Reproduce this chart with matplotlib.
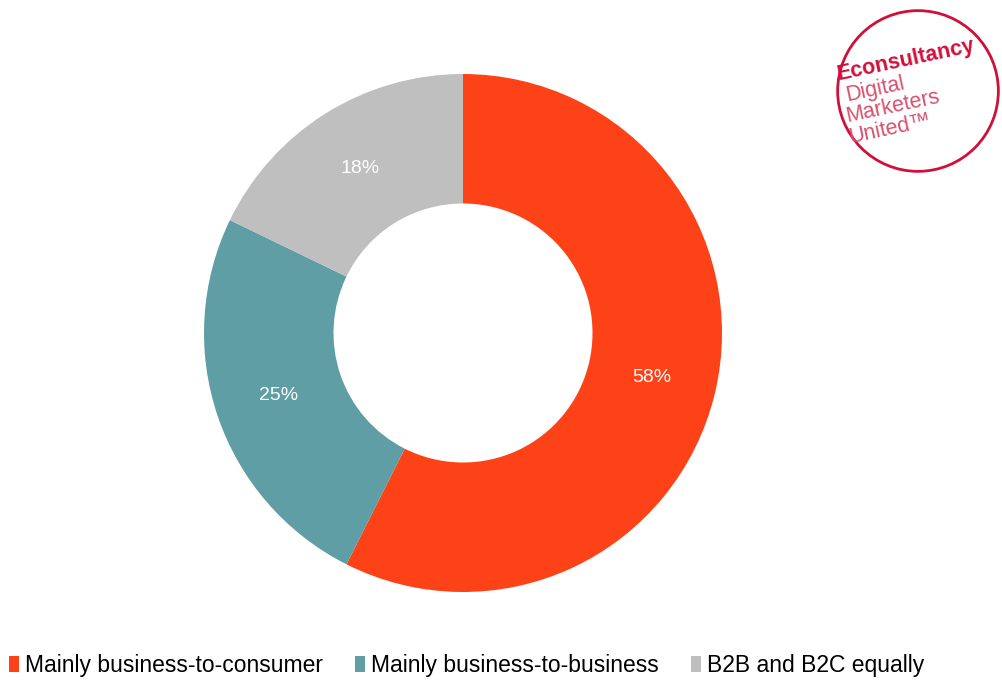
import numpy as np
import matplotlib
matplotlib.use("Agg")
import matplotlib.pyplot as plt
from matplotlib.patches import Circle

labels = ["Mainly business-to-consumer", "Mainly business-to-business", "B2B and B2C equally"]
values = [58, 25, 18]
colors = ["#FC4216", "#5F9EA5", "#BFBFBF"]

plt.rcParams["font.family"] = ["Liberation Sans", "DejaVu Sans"]

W, H = 1002, 685
fig = plt.figure(figsize=(W / 100, H / 100), dpi=100)

# donut, placed in pixel terms
cx, cy, r = 463, 333, 259
ax = fig.add_axes([(cx - r) / W, (H - cy - r) / H, 2 * r / W, 2 * r / H])
wedges, _ = ax.pie(values, colors=colors, startangle=90, counterclock=False,
                   radius=1, wedgeprops=dict(width=0.5, linewidth=0))
ax.set_xlim(-1, 1); ax.set_ylim(-1, 1); ax.set_aspect("equal"); ax.axis("off")

tot = sum(values)
start = 90
for v in values:
    ang = np.deg2rad(start - v / tot * 360 / 2)
    ax.text(0.75 * np.cos(ang), 0.75 * np.sin(ang), f"{v}%", color="white",
            fontsize=14, ha="center", va="center")
    start -= v / tot * 360

# legend
fig.legend(wedges, labels, loc="lower left", bbox_to_anchor=(-0.005, -0.008), ncol=3,
           frameon=False, fontsize=16.5, handlelength=0.45, handleheight=0.7,
           handletextpad=0.25, columnspacing=1.4, borderaxespad=0.2)

# logo
lr = 82
lax = fig.add_axes([(918 - lr) / W, (H - 91 - lr) / H, 2 * lr / W, 2 * lr / H])
lax.set_xlim(-1, 1); lax.set_ylim(-1, 1); lax.set_aspect("equal"); lax.axis("off")
lax.add_patch(Circle((0, 0), 0.98, fill=False, ec="#D0103A", lw=2))
rot = 12
lax.text(-0.97, 0.13, "Econsultancy", color="#D0103A", fontsize=15.5, fontweight="bold",
         ha="left", va="baseline", rotation=rot, rotation_mode="anchor")
pos = [(-0.86, -0.12), (-0.86, -0.38), (-0.82, -0.64)]
for (x, y), t in zip(pos, ["Digital", "Marketers", "United\u2122"]):
    lax.text(x, y, t, color="#D8506E", fontsize=15.5, ha="left", va="baseline",
             rotation=rot, rotation_mode="anchor")

fig.savefig("out.png", dpi=100)
